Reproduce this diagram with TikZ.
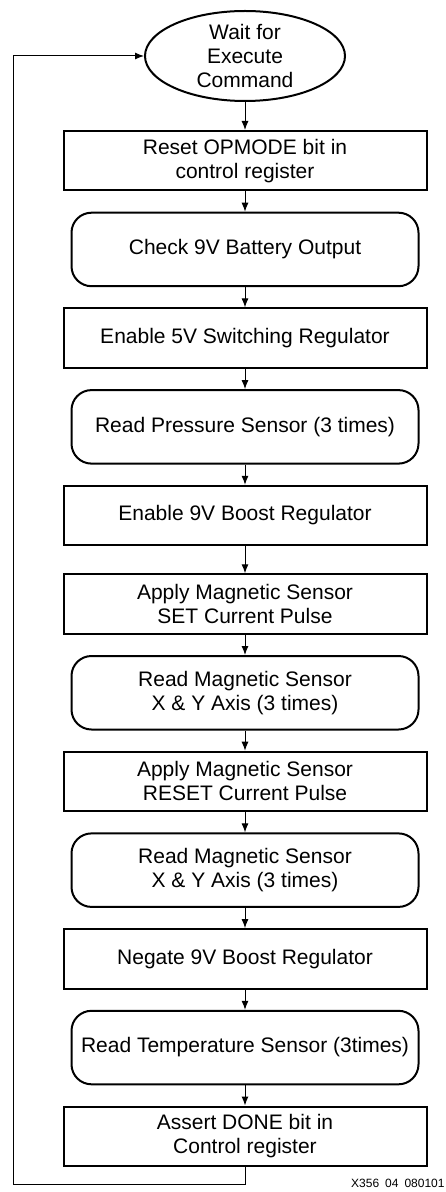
\documentclass[tikz,border=0pt]{standalone}
\usepackage{fontspec}
\setmainfont{Liberation Sans}
\usetikzlibrary{arrows.meta, positioning, shapes.geometric}

\begin{document}
\begin{tikzpicture}[box/.style={rectangle, draw=black, line width=1pt, minimum width=181.5pt, minimum height=29.75pt, inner sep=0pt, align=center}, rbox/.style={box, rounded corners=10pt, minimum width=173.5pt, minimum height=36.75pt}, arr/.style={-{Latex[length=4.5pt,width=3.5pt]}, line width=0.5pt}, font=\fontsize{10.5}{12}\selectfont, node distance=10.1pt]

        \useasboundingbox (0,0) rectangle (222.5pt,-596pt);

        % Start
        \node[ellipse, draw=black, line width=1pt, minimum width=100pt, minimum height=45pt, inner xsep=0pt, inner ysep=-4pt, align=center] (wait) at (122.5pt,-28pt) {Wait for\\Execute\\Command};

        % Ablauf
        \node[box, anchor=north] (opmode) at (122.5pt,-65pt) {Reset OPMODE bit in\\control register};
        \node[rbox, below=of opmode] (battery) {Check 9V Battery Output};
        \node[box, below=of battery] (fivev) {Enable 5V Switching Regulator};
        \node[rbox, below=of fivev] (pressure) {Read Pressure Sensor (3 times)};
        \node[box, below=of pressure] (boost) {Enable 9V Boost Regulator};
        \node[box, below=13.5pt of boost] (setpulse) {Apply Magnetic Sensor\\SET Current Pulse};
        \node[rbox, below=of setpulse] (magone) {Read Magnetic Sensor\\X \& Y Axis (3 times)};
        \node[box, below=of magone] (resetpulse) {Apply Magnetic Sensor\\RESET Current Pulse};
        \node[rbox, below=of resetpulse] (magtwo) {Read Magnetic Sensor\\X \& Y Axis (3 times)};
        \node[box, below=of magtwo] (negate) {Negate 9V Boost Regulator};
        \node[rbox, below=of negate] (temp) {Read Temperature Sensor (3times)};
        \node[box, below=of temp] (done) {Assert DONE bit in\\Control register};

        % Pfeile
        \draw[arr] (wait) -- (opmode);
        \draw[arr] (opmode) -- (battery);
        \draw[arr] (battery) -- (fivev);
        \draw[arr] (fivev) -- (pressure);
        \draw[arr] (pressure) -- (boost);
        \draw[arr] (boost) -- (setpulse);
        \draw[arr] (setpulse) -- (magone);
        \draw[arr] (magone) -- (resetpulse);
        \draw[arr] (resetpulse) -- (magtwo);
        \draw[arr] (magtwo) -- (negate);
        \draw[arr] (negate) -- (temp);
        \draw[arr] (temp) -- (done);

        % Rueckfuehrung
        \coordinate (loopcorner) at (6.5pt,-592pt);
        \draw[arr] (done.south) |- (loopcorner) |- (wait.west);

        % Bildnummer
        \node[anchor=base east, inner sep=0pt, font=\fontsize{6}{7}\selectfont] (figid) at (222.5pt,-593.5pt) {X356\enspace 04\enspace 080101};

      \end{tikzpicture}
\end{document}
